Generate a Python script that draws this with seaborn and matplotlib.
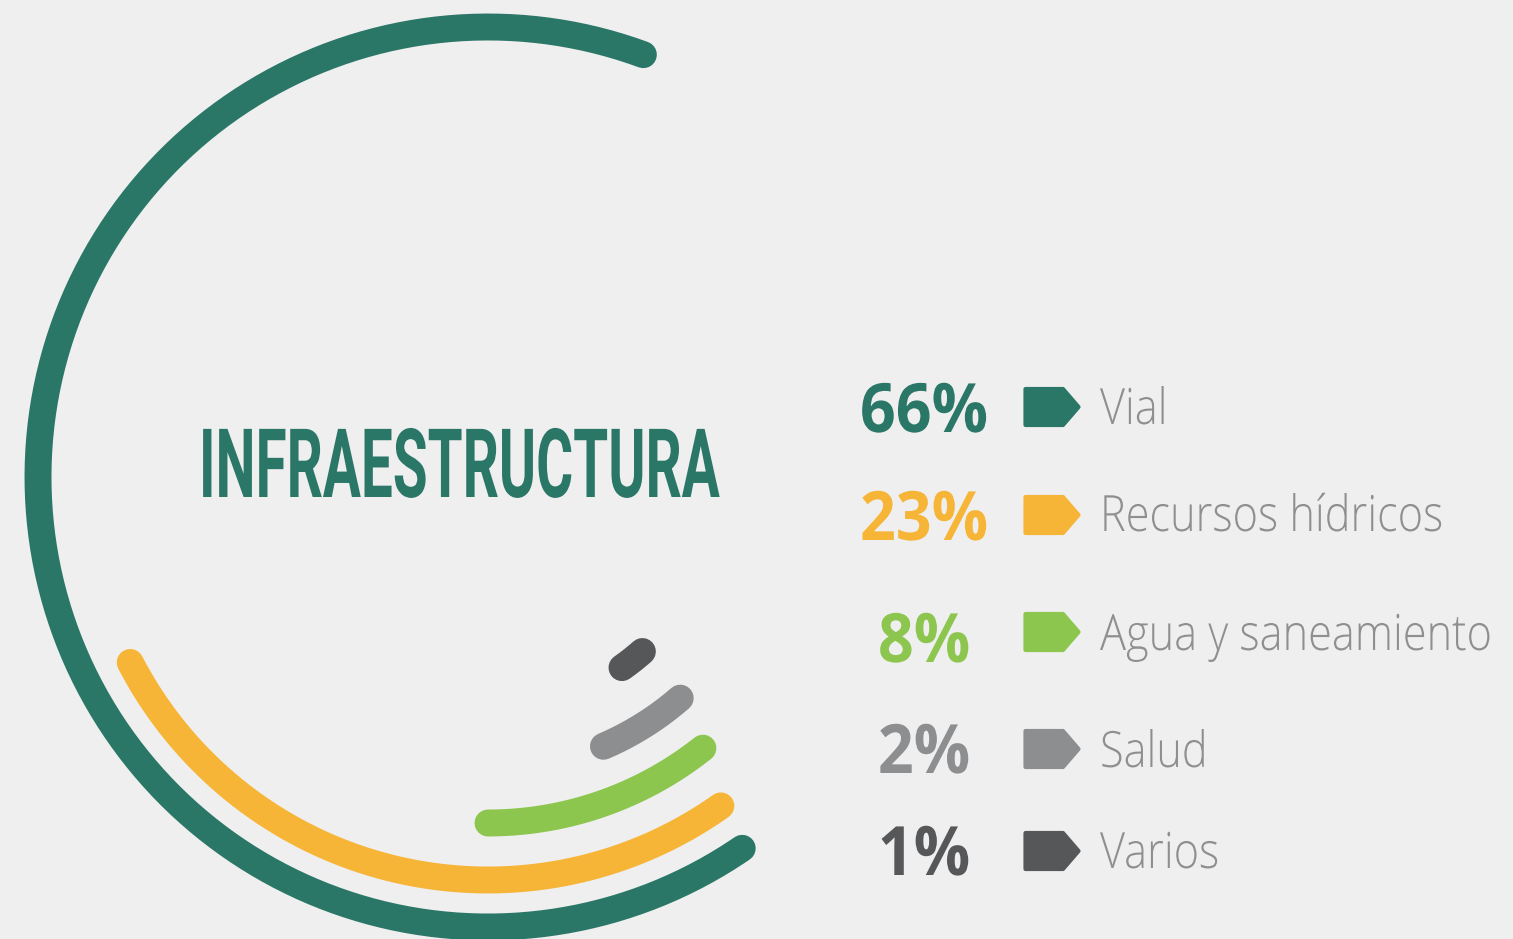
import numpy as np
import pandas as pd
import matplotlib
matplotlib.use("Agg")
import matplotlib.pyplot as plt
import seaborn as sns
from matplotlib import font_manager
from matplotlib.patches import Polygon
from matplotlib.patheffects import AbstractPathEffect
from matplotlib.transforms import Affine2D

# datos
sectores = ["Vial", "Recursos hídricos", "Agua y saneamiento", "Salud", "Varios"]
porcentajes = [66, 23, 8, 2, 1]
# arcos tal como se ven en la imagen (grados, antihorario desde las 3 en punto)
arco_inicio = [69.8, 207.4, 270.0, 293.2, 305.1]
arco_fin = [304.4, 305.3, 308.4, 311.0, 311.5]
colores = ["#2a7767", "#f6b536", "#8cc64e", "#8d8e90", "#565759"]
titulo = "INFRAESTRUCTURA"

# layout (pixeles)
W, H = 1513, 939
CX, CY = 488, 477
radios = [450, 403, 346, 293, 233]
pct_base = [432, 540, 662, 773, 875]
lab_base = [424, 531, 650, 767, 868]
fila_centro = [407, 515, 632, 749, 851]
FONDO = "#efefef"
GRIS_TXT = "#8f8f8f"


def familia(candidatas):
    nombres = {f.name for f in font_manager.fontManager.ttflist}
    for c in candidatas:
        if c in nombres:
            return c
    return "DejaVu Sans"


class Alargar(AbstractPathEffect):
    """escala el texto en vertical desde su linea base"""
    def __init__(self, sy):
        super().__init__()
        self.sy = sy

    def draw_path(self, renderer, gc, tpath, affine, rgbFace=None):
        t = Affine2D().scale(1.0, self.sy) + affine
        renderer.draw_path(gc, tpath, t.frozen(), rgbFace)


sns.set_theme(style="white", rc={"figure.facecolor": FONDO, "axes.facecolor": FONDO})
f_titulo = familia(["Liberation Sans Narrow", "Roboto", "DejaVu Sans"])
f_pct = familia(["Open Sans", "Noto Sans", "DejaVu Sans"])

fig = plt.figure(figsize=(W / 100, H / 100), dpi=100)
ax = fig.add_axes([0, 0, 1, 1])

for i, sector in enumerate(sectores):
    th = np.deg2rad(np.linspace(arco_inicio[i], arco_fin[i], 300))
    arco = pd.DataFrame({"x": CX + radios[i] * np.cos(th),
                         "y": CY - radios[i] * np.sin(th)})
    sns.lineplot(data=arco, x="x", y="y", ax=ax, sort=False, estimator=None,
                 color=colores[i], linewidth=19.4, solid_capstyle="round",
                 legend=False)

ax.set_xlim(0, W)
ax.set_ylim(H, 0)
ax.set_axis_off()

# etiquetas tipo flecha
for i, sector in enumerate(sectores):
    c = fila_centro[i]
    pts = [(1025.5, c - 18), (1063, c - 18), (1078.5, c), (1063, c + 18), (1025.5, c + 18)]
    ax.add_patch(Polygon(pts, closed=True, facecolor=colores[i], edgecolor=colores[i],
                         linewidth=3, joinstyle="round"))

t_tit = ax.text(199, 497, titulo, color=colores[0], fontsize=69, fontweight="bold",
                family=f_titulo, ha="left", va="baseline")

t_pct = []
t_lab = []
for i, sector in enumerate(sectores):
    t_pct.append(ax.text(924, pct_base[i], f"{porcentajes[i]}%", color=colores[i],
                         fontsize=49, fontweight="bold", family=f_pct,
                         ha="center", va="baseline"))
    t_lab.append(ax.text(1100, lab_base[i], sector, color=GRIS_TXT, fontsize=36,
                         fontweight="light", family=f_pct, ha="left", va="baseline"))

# ajustar anchos al original: letra mas pequena y estirada en vertical
fig.canvas.draw()
rend = fig.canvas.get_renderer()


def ajustar(textos, ref, ancho):
    f0 = ref.get_fontsize()
    f1 = f0 * ancho / ref.get_window_extent(rend).width
    for t in textos:
        t.set_fontsize(f1)
        t.set_path_effects([Alargar(f0 / f1)])


ajustar([t_tit], t_tit, 521)
ajustar(t_pct, t_pct[0], 128)
ajustar(t_lab, t_lab[1], 343)

fig.savefig("out.png", dpi=100, facecolor=FONDO)
